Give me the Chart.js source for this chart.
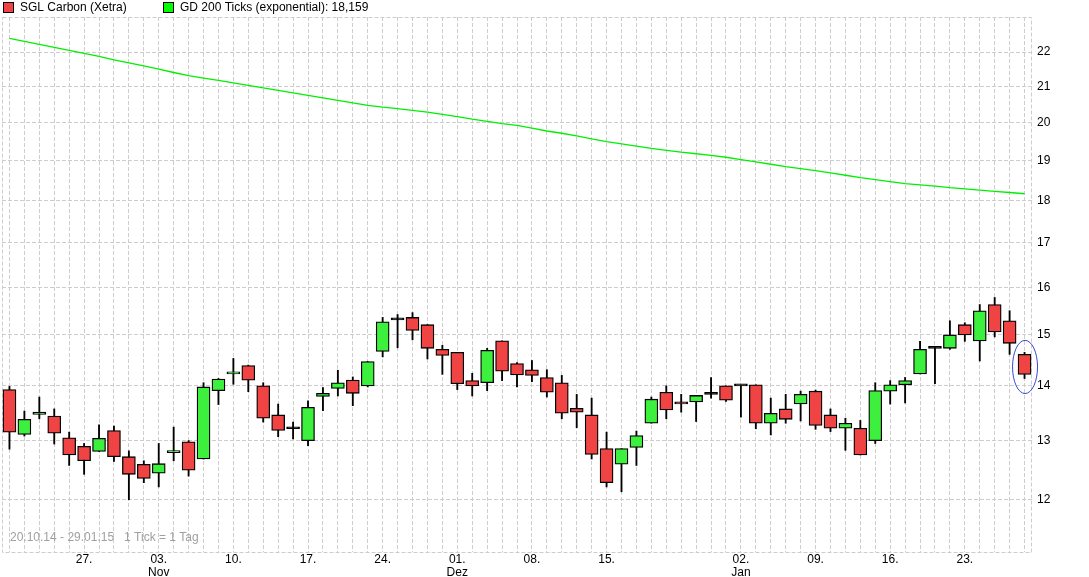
<!DOCTYPE html>
<html>
<head>
<meta charset="utf-8">
<script src="https://cdn.jsdelivr.net/npm/chart.js@4.4.1/dist/chart.umd.min.js"></script>
<style>
  html, body { margin: 0; padding: 0; background: #ffffff; }
  #wrap { width: 1089px; height: 577px; position: relative; }
</style>
</head>
<body>
<div id="wrap"><canvas id="c" width="1089" height="577"></canvas></div>
<script>
// ---- data ----
const dates = [
  '20.10.14','21.10.14','22.10.14','23.10.14','24.10.14','27.10.14','28.10.14','29.10.14','30.10.14','31.10.14',
  '03.11.14','04.11.14','05.11.14','06.11.14','07.11.14','10.11.14','11.11.14','12.11.14','13.11.14','14.11.14',
  '17.11.14','18.11.14','19.11.14','20.11.14','21.11.14','24.11.14','25.11.14','26.11.14','27.11.14','28.11.14',
  '01.12.14','02.12.14','03.12.14','04.12.14','05.12.14','08.12.14','09.12.14','10.12.14','11.12.14','12.12.14',
  '15.12.14','16.12.14','17.12.14','18.12.14','19.12.14','22.12.14','23.12.14','29.12.14','30.12.14',
  '02.01.15','05.01.15','06.01.15','07.01.15','08.01.15','09.01.15','12.01.15','13.01.15','14.01.15','15.01.15','16.01.15',
  '19.01.15','20.01.15','21.01.15','22.01.15','23.01.15','26.01.15','27.01.15','28.01.15','29.01.15'
];
const openP = [13.93,13.11,13.47,13.44,13.05,12.90,12.81,13.18,12.72,12.59,
  12.44,12.79,12.98,12.68,13.91,14.23,14.39,14.00,13.46,13.21,
  13.00,13.80,13.95,14.11,14.00,14.67,15.31,15.36,15.21,14.71,
  14.65,14.10,14.06,14.88,14.43,14.31,14.16,14.06,13.58,13.46,
  12.86,12.59,12.88,13.31,13.88,13.70,13.70,13.84,14.00,
  14.00,14.02,13.31,13.57,13.66,13.90,13.46,13.22,13.22,13.00,13.90,
  14.02,14.23,14.73,14.73,15.21,14.88,15.63,15.29,14.61];
const highP = [13.99,13.53,13.79,13.57,13.15,12.95,13.28,13.26,12.82,12.65,
  12.95,13.24,13.00,14.06,14.14,14.53,14.40,14.06,13.66,13.33,
  13.72,13.97,14.30,14.17,14.47,15.36,15.42,15.46,15.21,14.79,
  14.65,14.24,14.73,14.88,14.45,14.49,14.31,14.20,13.84,13.77,
  13.15,12.86,13.17,13.79,14.00,13.84,13.82,14.16,14.00,
  14.00,14.02,13.77,13.84,13.90,13.92,13.57,13.40,13.36,14.06,14.10,
  14.16,14.87,14.74,15.29,15.25,15.63,15.78,15.50,14.65];
const lowP = [12.85,13.08,13.39,12.94,12.57,12.42,12.81,12.64,12.00,12.28,
  12.21,12.65,12.39,12.68,13.65,14.03,13.89,13.33,13.07,13.03,
  12.91,13.54,13.81,13.63,13.98,14.56,14.74,14.90,14.52,14.22,
  13.93,13.81,13.91,14.10,13.98,14.08,13.79,13.39,13.23,12.68,
  12.21,12.13,12.57,13.31,13.39,13.51,13.34,13.77,13.71,
  13.42,13.21,13.10,13.31,13.35,13.20,13.16,12.83,12.75,12.95,13.66,
  13.68,14.23,14.04,14.71,14.87,14.48,14.96,14.61,14.14];
const closeP = [13.15,13.38,13.51,13.13,12.75,12.65,13.04,12.72,12.42,12.35,
  12.60,12.82,12.49,13.98,14.13,14.27,14.11,13.40,13.18,13.21,
  13.60,13.86,14.06,13.86,14.47,15.27,15.31,15.09,14.73,14.59,
  14.04,14.00,14.69,14.28,14.21,14.20,13.88,13.49,13.51,12.76,
  12.28,12.86,13.09,13.75,13.55,13.66,13.82,13.84,13.73,
  14.00,13.31,13.49,13.38,13.84,13.27,13.22,13.31,12.75,13.91,14.02,
  14.10,14.71,14.73,15.00,15.00,15.50,15.06,14.83,14.22];
const gd200 = [22.41,22.32,22.23,22.14,22.05,21.96,21.87,21.77,21.68,21.59,
  21.50,21.40,21.31,21.24,21.17,21.10,21.03,20.96,20.89,20.82,
  20.75,20.68,20.61,20.54,20.47,20.42,20.38,20.33,20.28,20.22,
  20.16,20.09,20.03,19.97,19.92,19.85,19.77,19.71,19.64,19.56,
  19.49,19.43,19.37,19.31,19.26,19.21,19.17,19.13,19.08,
  19.02,18.96,18.90,18.84,18.79,18.74,18.68,18.62,18.56,18.51,18.46,
  18.41,18.38,18.35,18.31,18.28,18.25,18.22,18.19,18.16];
const xTickIndex = [5, 10, 15, 20, 25, 30, 35, 40, 49, 54, 59, 64];
const xTickDay   = ['27.','03.','10.','17.','24.','01.','08.','15.','02.','09.','16.','23.'];
const xTickMonth = ['','Nov','','','','Dez','','','Jan','','',''];
const yTicks = [12, 13, 14, 15, 16, 17, 18, 19, 20, 21, 22];
const seriesNames = ['SGL Carbon (Xetra)', 'GD 200 Ticks (exponential): 18,159'];
const rangeText = '20.10.14 - 29.01.15   1 Tick = 1 Tag';

// ---- styles ----
const RED = '#f04444', GREEN = '#3ef03e', LINE = '#00f000', GRID = '#cfcbcf';
const FONT = '"Liberation Sans", Arial, sans-serif';

const wicks = dates.map((d, i) => [lowP[i], highP[i]]);
const bodies = dates.map((d, i) => [openP[i], closeP[i]]);
const bodyColors = dates.map((d, i) => closeP[i] > openP[i] ? GREEN : (closeP[i] < openP[i] ? RED : '#000000'));

const decor = {
  id: 'decor',
  beforeDraw(chart) {
    const ctx = chart.ctx;
    ctx.save();
    ctx.fillStyle = '#ffffff';
    ctx.fillRect(0, 0, chart.width, chart.height);
    ctx.restore();
  },
  beforeDatasetsDraw(chart) {
    const ctx = chart.ctx, a = chart.chartArea;
    ctx.save();
    ctx.strokeStyle = GRID;
    ctx.lineWidth = 1;
    ctx.setLineDash([4, 2]);
    ctx.strokeRect(Math.round(a.left) + 0.5, Math.round(a.top) + 0.5, Math.round(a.right - a.left) - 1, Math.round(a.bottom - a.top));
    ctx.setLineDash([]);
    ctx.fillStyle = '#a0a0a0';
    ctx.font = '12px ' + FONT;
    ctx.textBaseline = 'middle';
    ctx.fillText(rangeText, 10, 538);
    ctx.restore();
  },
  afterDraw(chart) {
    const ctx = chart.ctx;
    ctx.save();
    // legend
    const items = [{x: 3, c: RED, t: seriesNames[0], tx: 20}, {x: 163, c: '#00ff00', t: seriesNames[1], tx: 180}];
    ctx.font = '12px ' + FONT;
    ctx.textBaseline = 'middle';
    items.forEach(it => {
      ctx.fillStyle = it.c;
      ctx.fillRect(it.x, 2, 11, 11);
      ctx.strokeStyle = '#000000';
      ctx.lineWidth = 1;
      ctx.strokeRect(it.x + 0.5, 2.5, 10, 10);
      ctx.fillStyle = '#000000';
      ctx.fillText(it.t, it.tx, 8);
    });
    // ellipse around last candle
    const xs = chart.scales.x, ys = chart.scales.y;
    const n = dates.length - 1;
    const cx = xs.getPixelForValue(n);
    const yH = ys.getPixelForValue(highP[n]), yL = ys.getPixelForValue(lowP[n]);
    ctx.strokeStyle = '#3848d8';
    ctx.lineWidth = 1;
    ctx.beginPath();
    ctx.ellipse(cx + 0.5, (yH + yL) / 2 + 1.5, 12.5, (yL - yH) / 2 + 13.5, 0, 0, Math.PI * 2);
    ctx.stroke();
    ctx.restore();
  }
};

new Chart(document.getElementById('c'), {
  data: {
    labels: dates,
    datasets: [
      { type: 'line', label: seriesNames[1], data: gd200, borderColor: LINE, borderWidth: 1.3,
        pointRadius: 0, tension: 0, order: -1 },
      { type: 'bar', label: 'body', data: bodies, backgroundColor: bodyColors, borderColor: '#000000',
        borderWidth: 1.3, borderSkipped: false, barThickness: 13, minBarLength: 2, grouped: false, order: 0 },
      { type: 'bar', label: 'wick', data: wicks, backgroundColor: '#000000', borderWidth: 0,
        barThickness: 1.2, grouped: false, order: 1 }
    ]
  },
  options: {
    responsive: false,
    animation: false,
    layout: { padding: { left: 2, top: 17, right: 0, bottom: 0 } },
    plugins: { legend: { display: false }, tooltip: { enabled: false } },
    scales: {
      x: {
        type: 'category',
        offset: true,
        grid: { offset: false, color: GRID, drawTicks: false, lineWidth: 1 },
        border: { display: false, dash: [4, 2] },
        ticks: {
          autoSkip: false, maxRotation: 0, minRotation: 0, padding: 1,
          color: '#000000', font: { family: FONT, size: 12, lineHeight: 1.1 },
          callback: (v, i) => {
            const k = xTickIndex.indexOf(i);
            if (k < 0) return '';
            return xTickMonth[k] ? [xTickDay[k], xTickMonth[k]] : xTickDay[k];
          }
        },
        afterFit: s => { s.height = 25; }
      },
      y: {
        type: 'logarithmic',
        position: 'right',
        min: 11.18, max: 23.07,
        grid: { color: GRID, drawTicks: false, lineWidth: 1 },
        border: { display: false, dash: [4, 2] },
        afterBuildTicks: s => { s.ticks = yTicks.map(v => ({ value: v })); },
        ticks: {
          padding: 5, color: '#000000', font: { family: FONT, size: 12 },
          callback: v => String(v)
        },
        afterFit: s => { s.width = 57; }
      }
    }
  },
  plugins: [decor]
});
</script>
</body>
</html>
